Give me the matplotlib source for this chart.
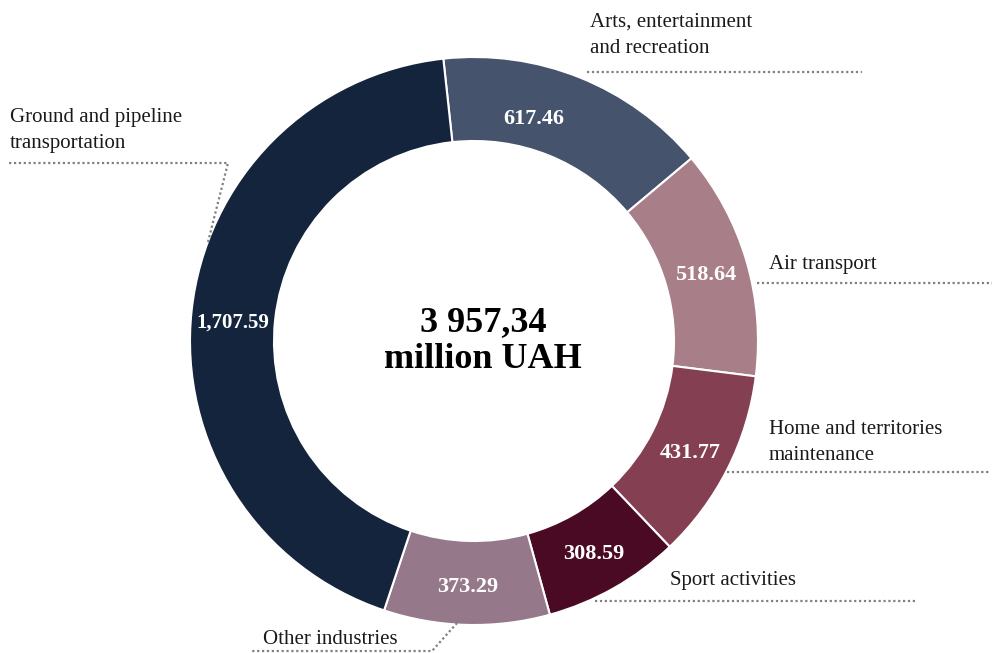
import matplotlib.pyplot as plt
import numpy as np

# Data
categories = ['Arts, entertainment\nand recreation', 'Air transport',
              'Home and territories\nmaintenance', 'Sport activities',
              'Other industries', 'Ground and pipeline\ntransportation']
values = [617.46, 518.64, 431.77, 308.59, 373.29, 1707.59]
value_labels = ['617.46', '518.64', '431.77', '308.59', '373.29', '1,707.59']
total_label = '3 957,34\nmillion UAH'
colors = ['#45536d', '#a87e88', '#843f53', '#4a0a24', '#957889', '#14243c']

plt.rcParams['font.family'] = ['Liberation Serif', 'DejaVu Serif']

W, H = 992, 653
fig = plt.figure(figsize=(W / 100, H / 100), dpi=100)
ax = fig.add_axes([0, 0, 1, 1])

cx, cy, R, ring = 474, 341, 284, 84
wedges, _ = ax.pie(values, colors=colors, startangle=263.8, counterclock=True,
                   radius=R, center=(cx, cy),
                   wedgeprops=dict(width=ring, edgecolor='white', linewidth=1.5))
ax.set_xlim(0, W)
ax.set_ylim(H, 0)
ax.set_aspect('equal')
ax.axis('off')

# value labels inside the ring (Arts label sits a bit off centre)
nudge = [-7, 0, 0, 0, 0, -1.2]
r_off = [-10, 0, 0, 0, 2, 0]
sizes = [16, 16, 16, 16, 16, 15]
for w, lab, dn, dr, fs in zip(wedges, value_labels, nudge, r_off, sizes):
    mid = np.deg2rad((w.theta1 + w.theta2) / 2 + dn)
    r = R - ring / 2 + dr
    ax.text(cx + r * np.cos(mid), cy + r * np.sin(mid), lab, color='white',
            fontsize=fs, fontweight='bold', ha='center', va='center_baseline')

# centre total
ax.text(cx + 9, cy, total_label, fontsize=26, fontweight='bold',
        ha='center', va='center', linespacing=1.16)

# category labels and dotted leader lines
label_pos = [(590, 58), (769, 262), (769, 443), (670, 578), (263, 637), (10, 153)]
label_va = ['bottom', 'center_baseline', 'center', 'center_baseline',
            'center_baseline', 'bottom']
leaders = [
    [(587, 72), (862, 72)],
    [(757, 283), (992, 283)],
    [(727, 472), (990, 472)],
    [(595, 601), (915, 601)],
    [(457, 623), (432, 651), (250, 651)],
    [(208, 242), (228, 163), (8, 163)],
]
for name, (lx, ly), va, pts in zip(categories, label_pos, label_va, leaders):
    ax.text(lx, ly, name, fontsize=15, color='#1a1a1a', ha='left', va=va,
            linespacing=1.5)
    xs, ys = zip(*pts)
    ax.plot(xs, ys, linestyle=(0, (1, 1.2)), color='#808080', lw=1.6,
            clip_on=False)

fig.savefig('out.png', dpi=100)
